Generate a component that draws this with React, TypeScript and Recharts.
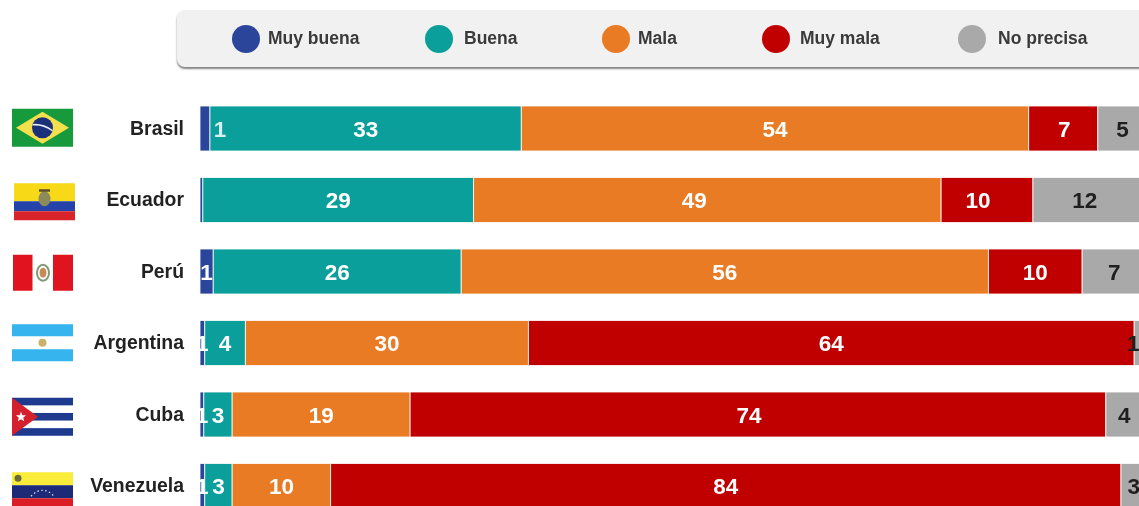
import { BarChart, Bar, XAxis, YAxis, Legend, LabelList } from "recharts";

const paises = ["Brasil", "Ecuador", "Perú", "Argentina", "Cuba", "Venezuela"];

const muyBuena = [1.05, 0.3, 1.4, 0.5, 0.4, 0.5];
const buena = [32.9, 28.6, 26.2, 4.3, 3.0, 2.9];
const mala = [53.6, 49.4, 55.7, 29.9, 18.8, 10.4];
const muyMala = [7.3, 9.7, 9.9, 64.0, 73.5, 83.5];
const noPrecisa = [5.2, 12.0, 6.8, 1.3, 4.3, 2.7];

const muyBuenaLabels = ["", "", "1", "1", "1", "1"];
const buenaLabels = ["33", "29", "26", "4", "3", "3"];
const malaLabels = ["54", "49", "56", "30", "19", "10"];
const muyMalaLabels = ["7", "10", "10", "64", "74", "84"];
const noPrecisaLabels = ["5", "12", "7", "1", "4", "3"];

// the source picture does not centre every number in its segment
const malaNudge = [0, -13, 0, 0, 0, 0];
const muyMalaNudge = [1, -9, 0, 0, -9, 0];
const noPrecisaNudge = [0, -5, 0, -7, -2, 0];

const data = paises.map((pais, i) => ({
  pais,
  muyBuena: muyBuena[i],
  buena: buena[i],
  mala: mala[i],
  muyMala: muyMala[i],
  noPrecisa: noPrecisa[i],
}));

const FONT = "'Liberation Sans', Arial, sans-serif";
const legendDot = [232, 425, 602, 762, 958];
const legendText = [268, 464, 638, 800, 998];

function Flag({ pais, y }: { pais: string; y: number }) {
  if (pais === "Brasil") {
    return (
      <g transform={`translate(12, ${y - 20})`}>
        <rect width={61} height={38} fill="#179a3c" />
        <polygon points="30.5,3 57,19 30.5,35 4,19" fill="#f4e04d" />
        <circle cx={30.5} cy={19} r={10.5} fill="#1b2f7a" />
        <path d="M20.5 16 Q31 15 40.5 22" stroke="#e8eef0" strokeWidth={1.5} fill="none" />
      </g>
    );
  }
  if (pais === "Ecuador") {
    return (
      <g transform={`translate(14, ${y - 17})`}>
        <rect width={61} height={18} fill="#f7d917" />
        <rect y={18} width={61} height={10} fill="#2543a8" />
        <rect y={28} width={61} height={9} fill="#d8232a" />
        <ellipse cx={30.5} cy={15.5} rx={6} ry={7.5} fill="#8c8a5c" />
        <rect x={25} y={6} width={11} height={2.5} fill="#5a5030" />
      </g>
    );
  }
  if (pais === "Perú") {
    return (
      <g transform={`translate(13, ${y - 17})`}>
        <rect width={60} height={36} fill="#ffffff" />
        <rect width={19.5} height={36} fill="#e0141e" />
        <rect x={40} width={20} height={36} fill="#e0141e" />
        <ellipse cx={30} cy={18} rx={6} ry={8} fill="none" stroke="#7f9a72" strokeWidth={2} />
        <ellipse cx={30} cy={18} rx={3.5} ry={5} fill="#c98a5a" />
      </g>
    );
  }
  if (pais === "Argentina") {
    return (
      <g transform={`translate(12, ${y - 19})`}>
        <rect width={61} height={37} fill="#ffffff" />
        <rect width={61} height={12} fill="#35b4ee" />
        <rect y={25} width={61} height={12} fill="#35b4ee" />
        <circle cx={30.5} cy={18.5} r={4} fill="#c9b36b" />
      </g>
    );
  }
  if (pais === "Cuba") {
    return (
      <g transform={`translate(12, ${y - 17})`}>
        <rect width={61} height={38} fill="#ffffff" />
        <rect width={61} height={7.6} fill="#1d3a8f" />
        <rect y={15.2} width={61} height={7.6} fill="#1d3a8f" />
        <rect y={30.4} width={61} height={7.6} fill="#1d3a8f" />
        <polygon points="0,0 26,19 0,38" fill="#d3202c" />
        <polygon points="9,14 10.4,17.6 14,17.6 11.2,20 12.2,23.6 9,21.6 5.8,23.6 6.8,20 4,17.6 7.6,17.6" fill="#ffffff" />
      </g>
    );
  }
  return (
    <g transform={`translate(12, ${y - 14})`}>
      <rect width={61} height={13} fill="#f9ec3a" />
      <rect y={13} width={61} height={13} fill="#1c2a78" />
      <rect y={26} width={61} height={13} fill="#dc1c24" />
      <circle cx={6} cy={6} r={3.5} fill="#6d6a3a" />
      <path d="M19 24 Q30.5 12 42 24" stroke="#dfe3f2" strokeWidth={1.2} strokeDasharray="1.5 2.5" fill="none" />
    </g>
  );
}

function PaisTick(props: any) {
  const { y, payload } = props;
  return (
    <g>
      <Flag pais={payload.value} y={y} />
      <text x={184} y={y} dy={6} textAnchor="end" fontFamily={FONT} fontSize={19.4} fontWeight={700} fill="#222">
        {payload.value}
      </text>
    </g>
  );
}

function makeLabel(labels: string[], fill: string, nudge?: number[]) {
  return function BarLabel(props: any) {
    const { x, y, width, height, index } = props;
    const style = { fontFamily: FONT, fontSize: 22.5, fontWeight: 700 };
    return (
      <g>
        {index === 0 && labels === buenaLabels && (
          <text x={x + 10} y={y + height / 2} dy={8} textAnchor="middle" style={style} fill="#d5f0ee">
            1
          </text>
        )}
        <text
          x={x + width / 2 + (nudge ? nudge[index] : 0)}
          y={y + height / 2}
          dy={8}
          textAnchor="middle"
          style={style}
          fill={fill}
        >
          {labels[index]}
        </text>
      </g>
    );
  };
}

function LeyendaPanel({ payload }: any) {
  return (
    <div
      style={{
        position: "absolute",
        left: 177,
        top: 10,
        width: 1000,
        height: 57,
        background: "#f1f1f1",
        borderRadius: 8,
        boxShadow: "0 2px 2px rgba(90,90,90,0.75)",
      }}
    >
      {(payload || []).map((item: any, i: number) => (
        <div key={item.value}>
          <span
            style={{
              position: "absolute",
              left: legendDot[i] - 177,
              top: 15,
              width: 28,
              height: 28,
              borderRadius: "50%",
              background: item.color,
            }}
          />
          <span
            style={{
              position: "absolute",
              left: legendText[i] - 177,
              top: 18,
              fontFamily: FONT,
              fontSize: 17.5,
              fontWeight: 700,
              color: "#3a3a3a",
              whiteSpace: "nowrap",
            }}
          >
            {item.value}
          </span>
        </div>
      ))}
    </div>
  );
}

export default function App() {
  return (
    <div style={{ position: "absolute", left: 0, top: 0, width: 1139, height: 506, overflow: "hidden", background: "#fff" }}>
      <div style={{ filter: "blur(0.4px)" }}>
        <BarChart
          width={1160}
          height={530}
          data={data}
          layout="vertical"
          barSize={45}
          margin={{ top: 93, right: 13, bottom: 8, left: 0 }}
        >
          <XAxis type="number" domain={[0, 100]} hide />
          <YAxis
            type="category"
            dataKey="pais"
            width={200}
            axisLine={false}
            tickLine={false}
            tick={<PaisTick />}
            interval={0}
          />
          <Legend content={<LeyendaPanel />} itemSorter={null} wrapperStyle={{ left: 0, top: 0, width: 0, height: 0 }} />
          <Bar dataKey="muyBuena" name="Muy buena" stackId="a" fill="#2b459b" stroke="#fff" strokeWidth={0.8} isAnimationActive={false}>
            <LabelList content={makeLabel(muyBuenaLabels, "#ffffff")} />
          </Bar>
          <Bar dataKey="buena" name="Buena" stackId="a" fill="#0a9f9a" stroke="#fff" strokeWidth={0.8} isAnimationActive={false}>
            <LabelList content={makeLabel(buenaLabels, "#ffffff")} />
          </Bar>
          <Bar dataKey="mala" name="Mala" stackId="a" fill="#e87b23" stroke="#fff" strokeWidth={0.8} isAnimationActive={false}>
            <LabelList content={makeLabel(malaLabels, "#ffffff", malaNudge)} />
          </Bar>
          <Bar dataKey="muyMala" name="Muy mala" stackId="a" fill="#c00000" stroke="#fff" strokeWidth={0.8} isAnimationActive={false}>
            <LabelList content={makeLabel(muyMalaLabels, "#ffffff", muyMalaNudge)} />
          </Bar>
          <Bar dataKey="noPrecisa" name="No precisa" stackId="a" fill="#a9a9a9" stroke="#fff" strokeWidth={0.8} isAnimationActive={false}>
            <LabelList content={makeLabel(noPrecisaLabels, "#1f1f1f", noPrecisaNudge)} />
          </Bar>
        </BarChart>
      </div>
    </div>
  );
}
